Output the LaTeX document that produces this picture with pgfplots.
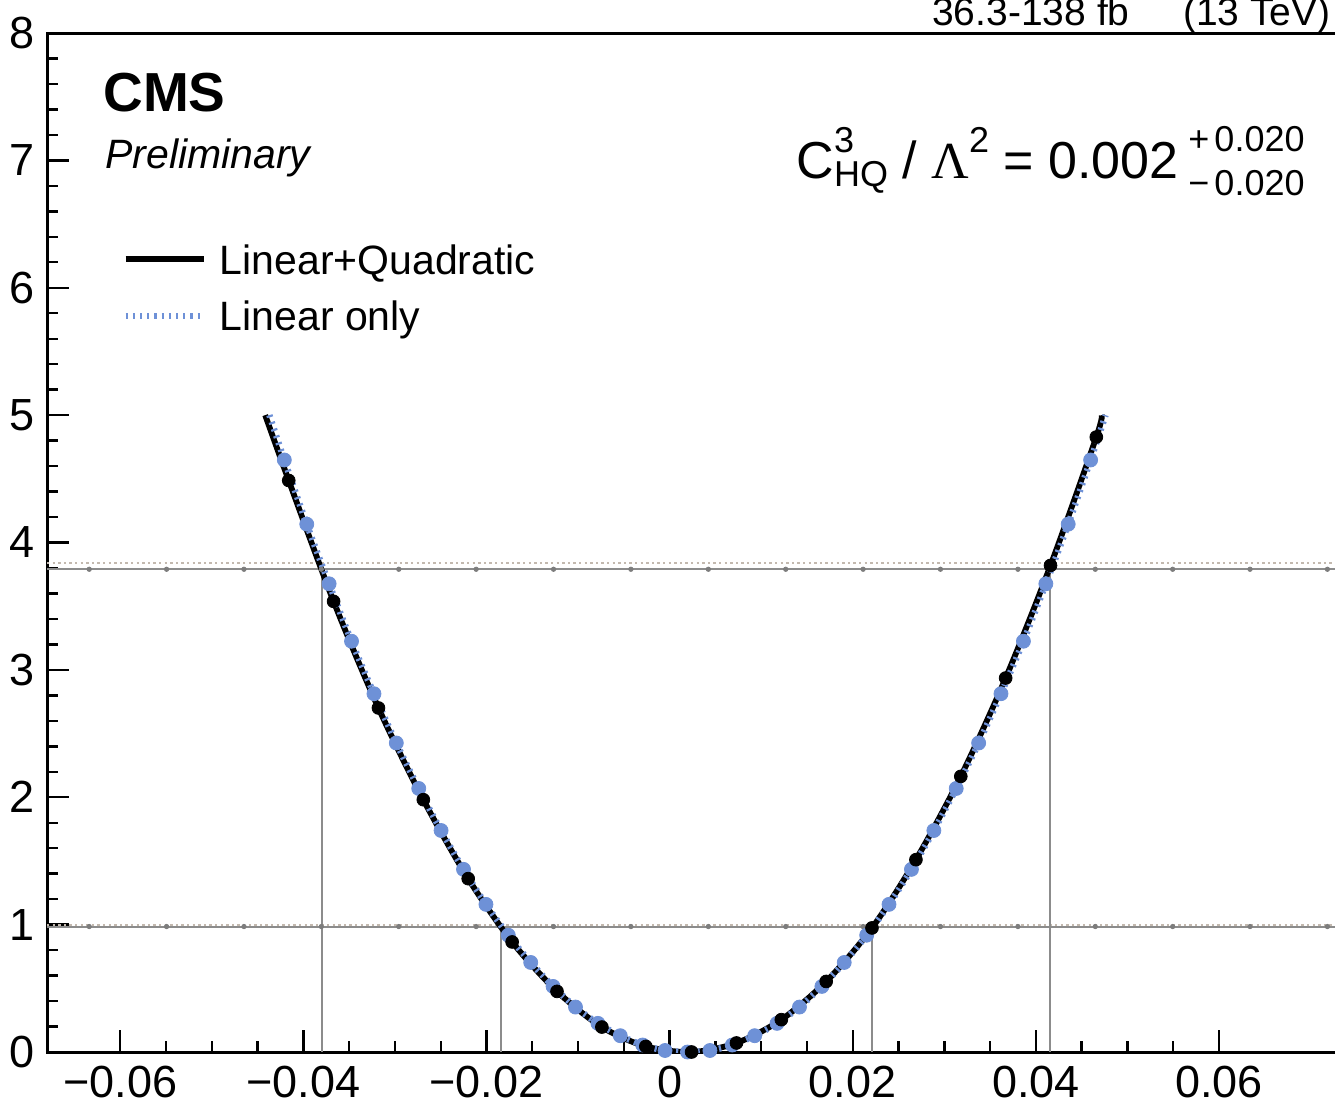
\documentclass[border=0pt]{standalone}
\usepackage{fontspec}
\setmainfont{Liberation Sans}
\newfontfamily\seriffont{Liberation Serif}
\usepackage{pgfplots}
\pgfplotsset{compat=1.18}
\definecolor{cmsblue}{RGB}{110,145,215}
\definecolor{lgray}{RGB}{140,140,140}
\definecolor{dgray}{RGB}{125,125,125}
\definecolor{ltan}{RGB}{195,185,175}
\begin{document}
\begin{tikzpicture}
\begin{axis}[
  at={(23.5pt,-526pt)}, anchor=south west,
  scale only axis, width=650.1pt, height=509.5pt,
  xmin=-0.068, xmax=0.074, ymin=0, ymax=8,
  axis line style={line width=1.5pt},
  tick style={black, line width=1.2pt},
  major tick length=11pt, minor tick length=5.5pt,
  tick align=inside,
  xtick pos=left, ytick pos=left,
  xtick={-0.06,-0.04,-0.02,0,0.02,0.04,0.06},
  xticklabels={−0.06,−0.04,−0.02,0,0.02,0.04,0.06},
  ytick={0,1,2,3,4,5,6,7,8},
  yticklabels={0,1,2,3,4,5,6,7,8},
  minor x tick num=3, minor y tick num=4,
  scaled x ticks=false,
  ticklabel style={font=\fontsize{22.5}{22.5}\selectfont},
  xticklabel style={anchor=north, inner sep=0pt, yshift=-7pt},
  yticklabel style={anchor=east, inner sep=0pt, xshift=-6pt},
  legend style={draw=none, fill=none, inner sep=0pt, at={(0.0577,0.793)}, anchor=north west,
    font=\fontsize{20.5}{20.5}\selectfont, row sep=13.5pt, column sep=6.5pt,
    nodes={inner sep=0pt, text depth=0pt}},
  legend cell align=left,
  legend image code/.code={\draw[#1] (0pt,0pt) -- (39pt,0pt);},
]
% horizontal reference lines
\addplot[ltan, line width=1pt, dash pattern=on 1.2pt off 1.6pt, forget plot] coordinates {(-0.068,3.839) (0.074,3.839)};
\addplot[ltan, line width=1pt, dash pattern=on 1.2pt off 1.6pt, forget plot] coordinates {(-0.068,0.995) (0.074,0.995)};
\addplot[lgray, line width=1pt, forget plot] coordinates {(-0.068,3.79) (0.074,3.79)};
\addplot[lgray, line width=1pt, forget plot] coordinates {(-0.068,0.985) (0.074,0.985)};
\addplot[only marks, mark=*, mark size=1.1pt, color=dgray, forget plot] coordinates {
(-0.06339,0.985) (-0.05494,0.985) (-0.04649,0.985) (-0.03804,0.985) (-0.02958,0.985) (-0.02113,0.985)
(-0.01268,0.985) (-0.00423,0.985) (0.00423,0.985) (0.01268,0.985) (0.02113,0.985) (0.02958,0.985)
(0.03804,0.985) (0.04649,0.985) (0.05494,0.985) (0.06339,0.985) (0.07184,0.985)
(-0.06339,3.79) (-0.05494,3.79) (-0.04649,3.79) (-0.03804,3.79) (-0.02958,3.79) (-0.02113,3.79)
(-0.01268,3.79) (-0.00423,3.79) (0.00423,3.79) (0.01268,3.79) (0.02113,3.79) (0.02958,3.79)
(0.03804,3.79) (0.04649,3.79) (0.05494,3.79) (0.06339,3.79) (0.07184,3.79)};
% vertical interval lines
\addplot[lgray, line width=1pt, forget plot] coordinates {(-0.0380,0) (-0.0380,3.79)};
\addplot[lgray, line width=1pt, forget plot] coordinates {(-0.0184,0) (-0.0184,0.985)};
\addplot[lgray, line width=1pt, forget plot] coordinates {(0.0221,0) (0.0221,0.985)};
\addplot[lgray, line width=1pt, forget plot] coordinates {(0.0415,0) (0.0415,3.79)};
% linear only: points
\addplot[only marks, mark=*, mark size=3.5pt, color=cmsblue, mark options={fill=cmsblue, draw=cmsblue}, forget plot] coordinates {
(-0.04208,4.648) (-0.03963,4.144) (-0.03719,3.676) (-0.03474,3.225) (-0.03229,2.813) (-0.02985,2.426)
(-0.02740,2.069) (-0.02496,1.739) (-0.02251,1.434) (-0.02006,1.159) (-0.01762,0.917) (-0.01517,0.703)
(-0.01273,0.515) (-0.01028,0.353) (-0.00783,0.225) (-0.00539,0.128) (-0.00294,0.055) (-0.00050,0.012)
(0.00195,0.000) (0.00440,0.012) (0.00684,0.055) (0.00929,0.128) (0.01173,0.225) (0.01418,0.353)
(0.01663,0.515) (0.01907,0.703) (0.02152,0.917) (0.02396,1.159) (0.02641,1.434) (0.02886,1.739)
(0.03130,2.069) (0.03375,2.426) (0.03619,2.813) (0.03864,3.225) (0.04109,3.676) (0.04353,4.144)
(0.04598,4.648)};
% linear+quadratic: line
\addplot[black, line width=2.9pt, smooth] coordinates {
(-0.04417,5.000) (-0.0416,4.487) (-0.0367,3.538) (-0.0318,2.701) (-0.0269,1.981) (-0.0220,1.361)
(-0.0172,0.864) (-0.0123,0.476) (-0.0074,0.196) (-0.0026,0.044) (0.0024,0.000) (0.0073,0.071)
(0.0122,0.254) (0.0171,0.554) (0.0221,0.974) (0.0269,1.510) (0.0318,2.164) (0.0367,2.936)
(0.0416,3.820) (0.0466,4.828) (0.04719,5.000)};
\addlegendentry{Linear+Quadratic}
% linear+quadratic: points
\addplot[only marks, mark=*, mark size=3.2pt, color=black, mark options={fill=black}, forget plot] coordinates {
(-0.0416,4.487) (-0.0367,3.538) (-0.0318,2.701) (-0.0269,1.981) (-0.0220,1.361)
(-0.0172,0.864) (-0.0123,0.476) (-0.0074,0.196) (-0.0026,0.044) (0.0024,0.000) (0.0073,0.071)
(0.0122,0.254) (0.0171,0.554) (0.0221,0.974) (0.0269,1.510) (0.0318,2.164) (0.0367,2.936)
(0.0416,3.820) (0.0466,4.828)};
% linear only: dotted line
\addplot[cmsblue, line width=3.2pt, dash pattern=on 1.1pt off 2.5pt, smooth] coordinates {
(-0.04371,5.000) (-0.04208,4.648) (-0.03963,4.144) (-0.03719,3.676) (-0.03474,3.225) (-0.03229,2.813) (-0.02985,2.426)
(-0.02740,2.069) (-0.02496,1.739) (-0.02251,1.434) (-0.02006,1.159) (-0.01762,0.917) (-0.01517,0.703)
(-0.01273,0.515) (-0.01028,0.353) (-0.00783,0.225) (-0.00539,0.128) (-0.00294,0.055) (-0.00050,0.012)
(0.00195,0.000) (0.00440,0.012) (0.00684,0.055) (0.00929,0.128) (0.01173,0.225) (0.01418,0.353)
(0.01663,0.515) (0.01907,0.703) (0.02152,0.917) (0.02396,1.159) (0.02641,1.434) (0.02886,1.739)
(0.03130,2.069) (0.03375,2.426) (0.03619,2.813) (0.03864,3.225) (0.04109,3.676) (0.04353,4.144)
(0.04598,4.648) (0.04761,5.000)};
\addlegendentry{Linear only}
\end{axis}
\begin{scope}[x=0.5pt,y=-0.5pt]
\node[anchor=base west, inner sep=0pt, font=\bfseries\fontsize{27.5}{27.5}\selectfont] at (103,111) {CMS};
\node[anchor=base west, inner sep=0pt, font=\itshape\fontsize{20.5}{20.5}\selectfont] at (105,168) {Preliminary};
\node[anchor=base east, inner sep=0pt, font=\fontsize{19.5}{19.5}\selectfont] at (1331,25) {36.3-138 fb\raisebox{13pt}{\fontsize{14}{14}\selectfont −1} \ (13 TeV)};
\node[anchor=base east, inner sep=0pt, font=\fontsize{26}{26}\selectfont] at (1305,178) {C\rlap{\raisebox{13pt}{\fontsize{18}{18}\selectfont 3}}\raisebox{-4pt}{\fontsize{18}{18}\selectfont HQ} / {\seriffont Λ}\raisebox{13pt}{\fontsize{18}{18}\selectfont 2} = 0.002\hspace{5pt}\rlap{\raisebox{13.5pt}{\fontsize{18}{18}\selectfont +\hspace{2.5pt}0.020}}\raisebox{-8.5pt}{\fontsize{18}{18}\selectfont −\hspace{2.5pt}0.020}};
\pgfresetboundingbox
\path[use as bounding box] (0,0) rectangle (1335,1104);
\end{scope}
\end{tikzpicture}
\end{document}
